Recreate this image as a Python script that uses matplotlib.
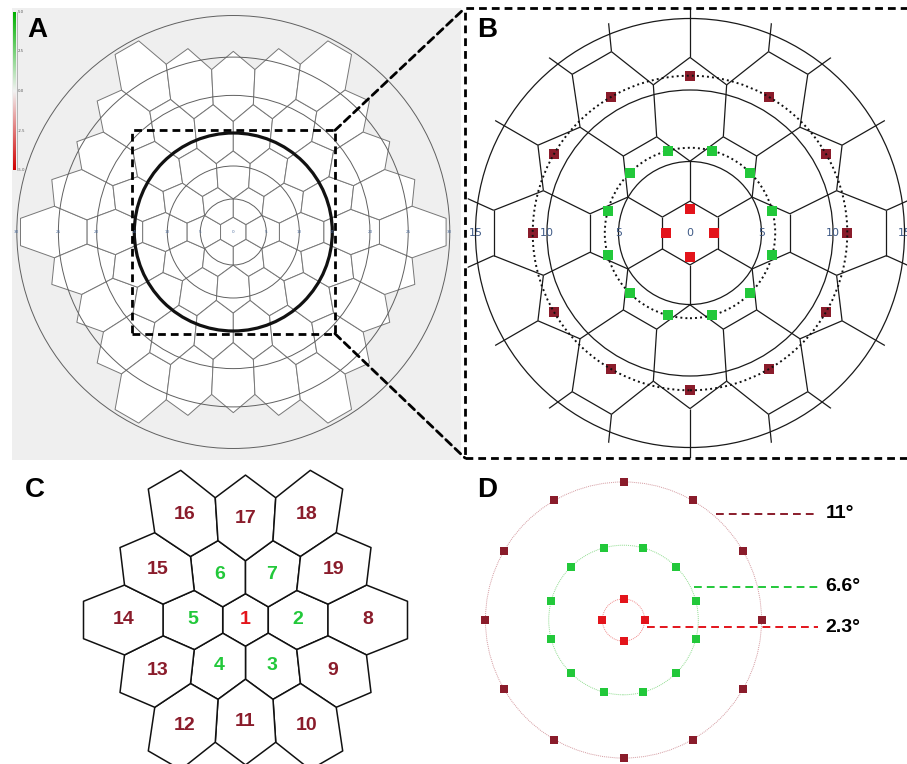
import numpy as np
import matplotlib
matplotlib.use('Agg')
import matplotlib.pyplot as plt
from matplotlib.collections import LineCollection, PolyCollection
from matplotlib.patches import Circle, Rectangle, ConnectionPatch
from matplotlib.colors import LinearSegmentedColormap

plt.rcParams['font.family'] = ['Liberation Sans', 'DejaVu Sans']

# ------------------------------------------------------------------ data
n_rings = 4                                   # 61-hexagon stimulus (rings 0..4)
a_tick_deg = [0, 5, 10, 15, 20, 25, 30]       # software eccentricity axis (deg)
a_tick_pos = [0, 5, 10, 15, 20.7, 26.5, 32.8] # stretched display position of those ticks
b_tick_deg = [-15, -10, -5, 0, 5, 10, 15]
cbar_ticks = [5.0, 2.5, 0.0, -2.5, -5.0]
c_numbers = list(range(1, 20))                # hexagon numbering in panel C
c_groups = ['ring0'] + ['ring1'] * 6 + ['ring2'] * 12
ring_ecc = [2.3, 6.6, 11.0]                   # eccentricity of each ring (deg)
ring_npts = [4, 12, 12]                       # sample squares per ring
ring_start = [0, 15, 0]                       # angle of first square (deg)
ring_labels = ['2.3°', '6.6°', '11°']

# ------------------------------------------------------------------ styles
RED, GREEN, DARK = '#e3141b', '#22c83a', '#8a1c2b'
ring_colors = [RED, GREEN, DARK]
group_colors = {'ring0': RED, 'ring1': GREEN, 'ring2': DARK}
W, H = 907, 764
WARP_A, WARP_B = 1.95, 0.28                   # radial scaling of the hexagon layout


def warp(pts):
    pts = np.asarray(pts, float)
    rho = np.hypot(pts[..., 0], pts[..., 1])
    return pts * (WARP_A + WARP_B * rho)[..., None]


def hex_lattice(n):
    cells = []
    for q in range(-n, n + 1):
        for r in range(-n, n + 1):
            s = -q - r
            ring = max(abs(q), abs(r), abs(s))
            if ring <= n:
                cx, cy = np.sqrt(3) * (q + r / 2), 1.5 * r
                ang = np.deg2rad(30 + 60 * np.arange(6))
                verts = np.c_[cx + np.cos(ang), cy + np.sin(ang)]
                cells.append(dict(c=(cx, cy), ring=ring, verts=warp(verts)))
    return cells


def unique_edges(cells):
    seen = {}
    for c in cells:
        v = c['verts']
        for i in range(6):
            a, b = v[i], v[(i + 1) % 6]
            key = tuple(sorted([(round(a[0], 3), round(a[1], 3)), (round(b[0], 3), round(b[1], 3))]))
            seen[key] = (a, b)
    return list(seen.values())


def make_axes(fig, x0, y0, x1, y1, cx, cy, s):
    ax = fig.add_axes([x0 / W, 1 - y1 / H, (x1 - x0) / W, (y1 - y0) / H])
    ax.set_xlim((x0 - cx) / s, (x1 - cx) / s)
    ax.set_ylim((cy - y1) / s, (cy - y0) / s)
    ax.set_xticks([]); ax.set_yticks([])
    for sp in ax.spines.values():
        sp.set_visible(False)
    return ax


def disp_a(d):
    return np.interp(d, a_tick_deg, a_tick_pos)


def overlay_r(e):
    # schematic radial scale used for the sample squares
    return ring_ecc[-1] * (np.asarray(e) / ring_ecc[-1]) ** 1.2


cells = hex_lattice(n_rings)
edges = unique_edges(cells)

fig = plt.figure(figsize=(W / 100, H / 100), dpi=100)

# ------------------------------------------------------------------ panel A
axA = make_axes(fig, 12, 8, 461, 460, 233.3, 232, 6.6)
axA.set_facecolor('#efefef')
axA.add_collection(PolyCollection([c['verts'] for c in cells], facecolors='white',
                                  edgecolors='#777777', linewidths=0.7, zorder=1))
for d in a_tick_deg[1:]:
    if d == 15:
        axA.add_patch(Circle((0, 0), disp_a(d), fill=False, ec='#111111', lw=2.3, zorder=3))
    else:
        axA.add_patch(Circle((0, 0), disp_a(d), fill=False, ec='#606060', lw=0.7, zorder=2))
for d in a_tick_deg:
    for sgn in ([1] if d == 0 else [-1, 1]):
        axA.text(sgn * disp_a(d), 0, str(d), fontsize=3, color='#4f6f9f',
                 ha='center', va='center', zorder=4, family='DejaVu Sans')
BOX_A = 15.4
axA.add_patch(Rectangle((-BOX_A, -BOX_A), 2 * BOX_A, 2 * BOX_A, fill=False, ec='black',
                        lw=2, ls=(0, (2.8, 1.8)), zorder=5))

# colour bar in A
axC_bar = fig.add_axes([13 / W, 1 - 170 / H, 3 / W, 158 / H])
cmap = LinearSegmentedColormap.from_list('rg', ['#d00000', '#f2f2f2', '#00b000'])
axC_bar.imshow(np.linspace(cbar_ticks[-1], cbar_ticks[0], 256)[:, None], aspect='auto',
               cmap=cmap, origin='lower', extent=(0, 1, cbar_ticks[-1], cbar_ticks[0]))
axC_bar.set_xticks([]); axC_bar.set_yticks([])
for sp in axC_bar.spines.values():
    sp.set_visible(False)
for t in cbar_ticks:
    yy = 1 - (12 + (cbar_ticks[0] - t) / (cbar_ticks[0] - cbar_ticks[-1]) * 158) / H
    fig.text(17.5 / W, yy, f'{t:.1f}', fontsize=2.8, color='#555555', ha='left', va='center',
             family='DejaVu Sans')
fig.add_artist(plt.Line2D([17 / W, 17 / W], [1 - 170 / H, 1 - 12 / H], color='#888888', lw=0.4))

# ------------------------------------------------------------------ panel B
S_B = 14.3
axB = make_axes(fig, 465, 8, 915, 458, 690, 233, S_B)
axB.set_facecolor('white')
clip_r = 225 / S_B
clip = Circle((0, 0), clip_r, transform=axB.transData)
lc = LineCollection(edges, colors='#1a1a1a', linewidths=0.9, zorder=1)
axB.add_collection(lc)
lc.set_clip_path(clip)
for d in [5, 10, 15]:
    axB.add_patch(Circle((0, 0), d, fill=False, ec='#1a1a1a', lw=0.9, zorder=1))
for t in b_tick_deg:
    axB.text(t, 0, str(abs(t)), fontsize=8, color='#3f5a86', ha='center', va='center', zorder=6,
             family='DejaVu Sans')
for i, (e, n, a0, col) in enumerate(zip(ring_ecc, ring_npts, ring_start, ring_colors)):
    r = overlay_r(e)
    ang = np.deg2rad(a0 + 360 / n * np.arange(n))
    axB.scatter(r * np.cos(ang), r * np.sin(ang), marker='s', s=44, c=col, linewidths=0,
                zorder=3 if col == DARK else 5)
    if i > 0:
        axB.add_patch(Circle((0, 0), r, fill=False, ec='#111111', lw=1.4, ls=(0, (1, 1.6)), zorder=4))
axB.add_patch(Rectangle((0, 0), 1, 1, transform=axB.transAxes, fill=False, ec='black', lw=2,
                        ls=(0, (2.8, 1.8)), clip_on=False, zorder=10))

# connection lines A -> B
for ya, yb in [(BOX_A, 1), (-BOX_A, 0)]:
    con = ConnectionPatch(xyA=(BOX_A, ya), coordsA=axA.transData, xyB=(0, yb), coordsB=axB.transAxes,
                          color='black', lw=2, ls=(0, (2.8, 1.8)))
    fig.add_artist(con)

# ------------------------------------------------------------------ panel C
S_C = 11.8
axCc = make_axes(fig, 0, 462, 460, 764, 245.5, 620, S_C)
c_cells = [c for c in cells if c['ring'] <= 2]
c_cells.sort(key=lambda c: (c['ring'], (-np.degrees(np.arctan2(c['c'][1], c['c'][0]))) % 360))
axCc.add_collection(PolyCollection([c['verts'] for c in c_cells], facecolors='white',
                                   edgecolors='#111111', linewidths=1.1))
for c, num, grp in zip(c_cells, c_numbers, c_groups):
    cx, cy = c['verts'].mean(axis=0)
    axCc.text(cx, cy, str(num), fontsize=14, fontweight='bold', color=group_colors[grp],
              ha='center', va='center')

# ------------------------------------------------------------------ panel D
S_D = 12.55
axD = make_axes(fig, 460, 462, 907, 764, 623.5, 620, S_D)
light = ['#f08a8a', '#8fdc8f', '#d49aa0']
label_y = [-0.56, 2.63, 8.45]
for e, n, a0, col, lc_, ly, lab in zip(ring_ecc, ring_npts, ring_start, ring_colors, light,
                                       label_y, ring_labels):
    r = overlay_r(e)
    axD.add_patch(Circle((0, 0), r, fill=False, ec=lc_, lw=0.7, ls=(0, (1, 1))))
    ang = np.deg2rad(a0 + 360 / n * np.arange(n))
    axD.scatter(r * np.cos(ang), r * np.sin(ang), marker='s', s=28, c=col, linewidths=0, zorder=3)
    x0 = np.sqrt(max(r ** 2 - ly ** 2, 0)) + 0.3
    axD.plot([x0, 15.5], [ly, ly], color=col, lw=1.4, ls=(0, (4, 2.6)))
    axD.text(16.1, ly, lab, fontsize=14, fontweight='bold', color='black', ha='left', va='center')

# ------------------------------------------------------------------ panel letters
for lab, (x, y) in zip('ABCD', [(37, 30), (487, 30), (35, 490), (487, 490)]):
    fig.text(x / W, 1 - y / H, lab, fontsize=20, fontweight='bold', ha='center', va='center')

fig.savefig('out.png', dpi=100)
